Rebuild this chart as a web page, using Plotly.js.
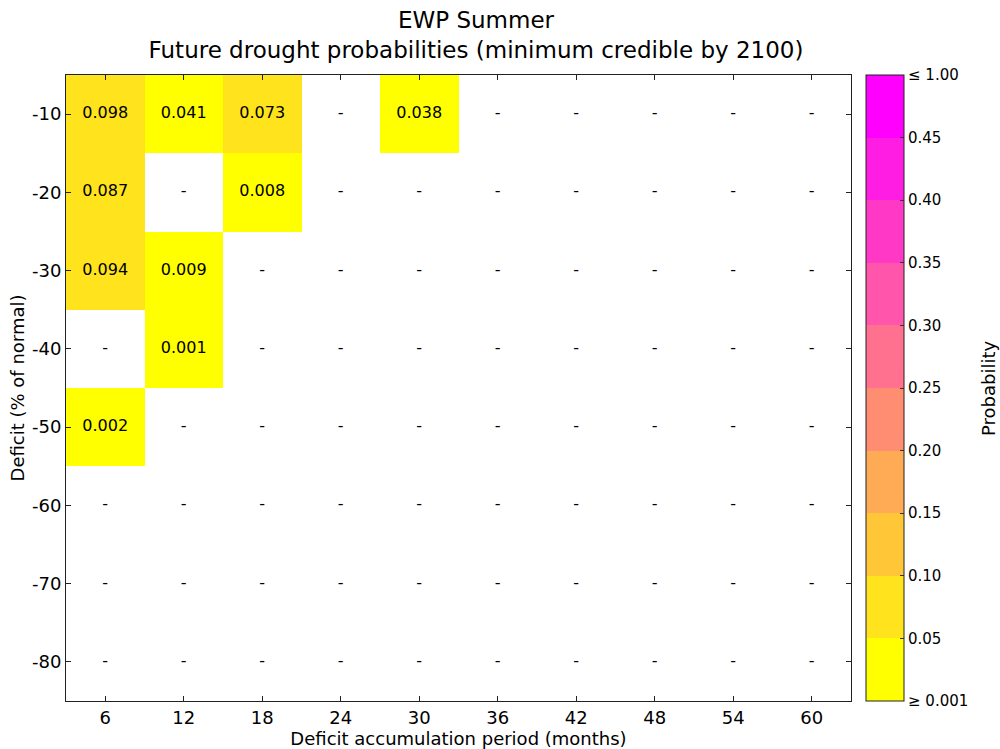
<!DOCTYPE html>
<html>
<head>
<meta charset="utf-8">
<script src="https://cdn.plot.ly/plotly-3.0.1.min.js"></script>
<style>
  html, body { margin: 0; padding: 0; background: #fff; }
  #chart { width: 1000px; height: 749px; }
</style>
</head>
<body>
<div id="chart"></div>
<script>
// Accumulation periods (months) and deficit levels (% of normal)
const periods = [6, 12, 18, 24, 30, 36, 42, 48, 54, 60];
const deficits = [-10, -20, -30, -40, -50, -60, -70, -80];
const deficitLabels = ['-10', '-20', '-30', '-40', '-50', '-60', '-70', '-80'];

// Probability per deficit row (null = no credible drought)
const row10 = [0.098, 0.041, 0.073, null, 0.038, null, null, null, null, null];
const row20 = [0.087, null, 0.008, null, null, null, null, null, null, null];
const row30 = [0.094, 0.009, null, null, null, null, null, null, null, null];
const row40 = [null, 0.001, null, null, null, null, null, null, null, null];
const row50 = [0.002, null, null, null, null, null, null, null, null, null];
const row60 = [null, null, null, null, null, null, null, null, null, null];
const row70 = [null, null, null, null, null, null, null, null, null, null];
const row80 = [null, null, null, null, null, null, null, null, null, null];
const probs = [row10, row20, row30, row40, row50, row60, row70, row80];

// Colour class boundaries and their labels
const levels = [0.001, 0.05, 0.10, 0.15, 0.20, 0.25, 0.30, 0.35, 0.40, 0.45, 1.00];
const levelLabels = ['≥ 0.001', '0.05', '0.10', '0.15', '0.20', '0.25', '0.30', '0.35', '0.40', '0.45', '≤ 1.00'];
const levelColors = ['#ffff00', '#ffe31c', '#ffc638', '#ffaa55', '#ff8d71',
                     '#ff718e', '#ff55aa', '#ff38c6', '#ff1ce3', '#ff00ff'];

// Map a probability onto the middle of its colour class
function classOf(p) {
  if (p === null) return null;
  for (let k = 0; k < levels.length - 1; k++) {
    if (p < levels[k + 1]) return k + 0.5;
  }
  return levels.length - 1.5;
}

const zClass = probs.map(r => r.map(classOf));

// Stepped colourscale: one flat band per class
const nBands = levelColors.length;
const colorscale = [];
levelColors.forEach((c, k) => {
  colorscale.push([k / nBands, c]);
  colorscale.push([(k + 1) / nBands, c]);
});

// Cell labels
const lx = [], ly = [], lt = [];
deficits.forEach((d, i) => {
  periods.forEach((m, j) => {
    lx.push(m); ly.push(d);
    const p = probs[i][j];
    lt.push(p === null ? '-' : p.toFixed(3));
  });
});

const font = 'DejaVu Sans, sans-serif';
const ink = '#000';
const frame = '#222';

const heat = {
  type: 'heatmap',
  x: periods,
  y: deficits,
  z: zClass,
  zmin: 0,
  zmax: nBands,
  colorscale: colorscale,
  hoverongaps: false,
  xgap: 0, ygap: 0,
  colorbar: {
    x: 1.019, xanchor: 'left', xpad: 0,
    y: 0.5, yanchor: 'middle', ypad: 0,
    len: 1, lenmode: 'fraction',
    thickness: 38, thicknessmode: 'pixels',
    outlinewidth: 1, outlinecolor: frame,
    tickmode: 'array',
    tickvals: levels.map((_, k) => k),
    ticktext: levelLabels,
    ticks: 'inside', ticklen: 4, tickcolor: '#333',
    tickfont: {family: font, size: 15, color: ink}
  }
};

const labels = {
  type: 'scatter',
  mode: 'text',
  x: lx, y: ly, text: lt,
  textposition: 'middle center',
  textfont: {family: font, size: 16, color: ink},
  hoverinfo: 'skip',
  showlegend: false
};

const layout = {
  width: 1000, height: 749,
  margin: {l: 66, r: 149, t: 75, b: 48},
  paper_bgcolor: '#fff',
  plot_bgcolor: '#fff',
  showlegend: false,
  title: {
    text: 'EWP Summer<br>Future drought probabilities (minimum credible by 2100)',
    font: {family: font, size: 23, color: ink},
    x: 0.476, xanchor: 'center', y: 0.962, yanchor: 'middle'
  },
  xaxis: {
    range: [3, 63],
    tickmode: 'array', tickvals: periods,
    ticktext: periods.map(String),
    ticks: 'inside', ticklen: 5, tickcolor: frame,
    showline: true, linecolor: frame, linewidth: 1, mirror: 'ticks',
    showgrid: false, zeroline: false,
    tickfont: {family: font, size: 18, color: ink},
    title: {text: 'Deficit accumulation period (months)', font: {family: font, size: 18, color: ink}, standoff: 2}
  },
  yaxis: {
    range: [-85, -5],
    tickmode: 'array', tickvals: deficits, ticktext: deficitLabels,
    ticks: 'inside', ticklen: 5, tickcolor: frame,
    showline: true, linecolor: frame, linewidth: 1, mirror: 'ticks',
    showgrid: false, zeroline: false,
    tickfont: {family: font, size: 18, color: ink},
    title: {text: 'Deficit (% of normal)', font: {family: font, size: 18, color: ink}, standoff: 2}
  },
  annotations: [{
    text: 'Probability',
    xref: 'paper', yref: 'paper',
    x: 1.1745, y: 0.5, xanchor: 'center', yanchor: 'middle',
    textangle: -90, showarrow: false,
    font: {family: font, size: 18, color: ink}
  }]
};

Plotly.newPlot('chart', [heat, labels], layout, {displayModeBar: false, staticPlot: true});
</script>
</body>
</html>
